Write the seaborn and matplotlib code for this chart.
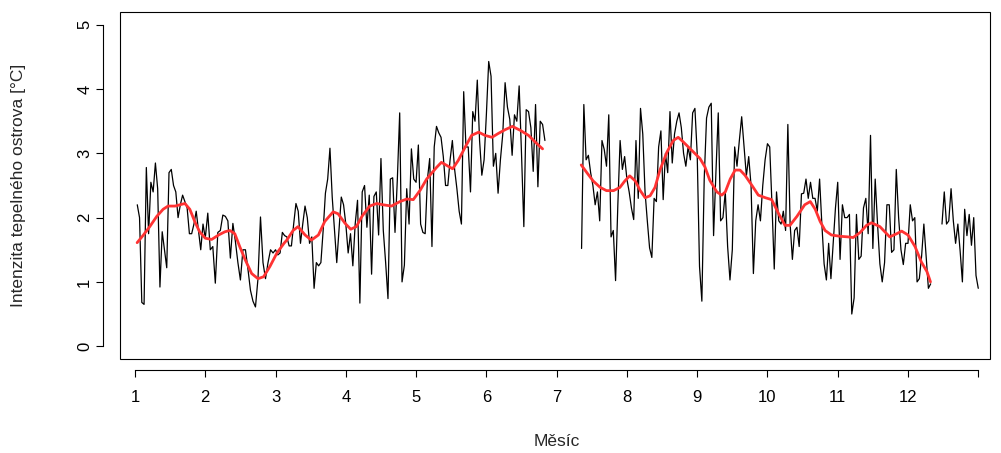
import numpy as np
import pandas as pd
import matplotlib
matplotlib.use("Agg")
import matplotlib.pyplot as plt
import seaborn as sns
from matplotlib.patches import Rectangle

nan = np.nan

# Daily urban heat island intensity [°C], one list per month
jan = [2.2, 2.0, 0.68, 0.65, 2.78, 1.75, 2.55, 2.4, 2.85, 2.45, 0.92, 1.78, 1.5, 1.22, 2.7, 2.75,
       2.5, 2.4, 2.0, 2.2, 2.35, 2.25, 2.15, 1.75, 1.75, 1.9, 2.1, 1.8, 1.5, 1.9, 1.68]
feb = [2.07, 1.5, 1.55, 0.98, 1.77, 1.8, 2.04, 2.02, 1.95, 1.37, 1.91, 1.63, 1.3, 1.03, 1.5, 1.5,
       1.2, 0.87, 0.7, 0.61, 1.05, 2.01, 1.3, 1.05, 1.3, 1.5, 1.45, 1.5]
mar = [1.42, 1.45, 1.77, 1.72, 1.7, 1.56, 1.56, 1.9, 2.22, 2.1, 1.6, 1.9, 2.18, 2.0, 1.6, 1.7,
       0.9, 1.3, 1.25, 1.3, 1.8, 2.38, 2.6, 3.08, 2.32, 1.8, 1.3, 1.8, 2.32, 2.2, 1.9]
apr = [1.45, 1.75, 1.25, 1.9, 2.27, 0.67, 2.4, 2.5, 1.85, 2.35, 1.12, 2.33, 2.4, 1.73, 2.92, 1.8,
       1.3, 0.74, 2.6, 2.62, 1.77, 2.6, 3.63, 1.0, 1.26, 2.45, 1.9, 3.07, 2.6, 2.55]
may = [3.13, 1.9, 1.77, 1.75, 2.6, 2.92, 1.55, 3.1, 3.42, 3.32, 3.25, 2.95, 2.5, 2.5, 2.9, 3.2,
       2.75, 2.45, 2.1, 1.9, 3.96, 3.1, 3.1, 2.4, 3.65, 3.5, 4.14, 3.2, 2.66, 2.9, 3.6]
jun = [4.43, 4.2, 2.8, 3.0, 2.38, 2.9, 3.3, 4.1, 3.72, 3.53, 2.97, 3.6, 3.5, 4.05, 3.0, 1.86,
       3.68, 3.65, 3.4, 2.72, 3.76, 2.48, 3.5, 3.45, 3.2, nan, nan, nan, nan, nan]
jul = [nan, nan, nan, nan, nan, nan, nan, nan, nan, nan, 1.52, 3.76, 2.9, 2.97, 2.7, 2.5,
       2.2, 2.4, 1.95, 3.2, 3.06, 2.8, 3.6, 1.7, 1.8, 1.02, 2.2, 3.2, 2.75, 2.95, 2.6]
aug = [2.4, 2.15, 1.97, 3.2, 2.3, 3.7, 3.3, 2.4, 1.95, 1.53, 1.38, 2.3, 2.25, 3.1, 3.35, 2.28,
       3.0, 2.7, 3.65, 2.85, 3.3, 3.5, 3.63, 3.4, 3.0, 2.8, 3.1, 2.9, 3.63, 3.7, 3.0]
sep = [1.24, 0.7, 2.6, 3.55, 3.72, 3.78, 1.72, 2.7, 3.63, 1.95, 2.0, 2.4, 1.55, 1.03, 1.5, 3.1,
       2.8, 3.2, 3.57, 3.1, 2.65, 2.95, 2.5, 1.13, 1.95, 2.2, 1.95, 2.5, 2.9, 3.15]
oct_ = [3.1, 2.2, 1.2, 2.4, 1.95, 1.9, 2.1, 1.8, 3.45, 1.9, 1.35, 1.8, 1.85, 1.55, 2.37, 2.38,
        2.6, 2.3, 2.55, 2.3, 2.3, 2.1, 2.6, 1.9, 1.28, 1.03, 1.6, 1.05, 1.6, 2.15, 2.55]
nov = [1.35, 2.2, 2.0, 2.0, 2.05, 0.5, 0.75, 2.05, 1.35, 1.4, 2.15, 2.3, 1.75, 3.28, 1.52, 2.6,
       1.9, 1.28, 1.0, 1.3, 2.2, 2.2, 1.46, 1.5, 2.75, 2.0, 1.5, 1.27, 1.6, 1.6]
dec = [2.2, 1.95, 2.0, 1.0, 1.05, 1.4, 1.9, 1.4, 0.9, 0.97, nan, nan, nan, nan, 1.9, 2.4,
       1.9, 1.95, 2.45, 1.95, 1.6, 1.9, 1.48, 1.0, 2.13, 1.72, 2.05, 1.57, 2.0, 1.1, 0.9]

months = [jan, feb, mar, apr, may, jun, jul, aug, sep, oct_, nov, dec]

# Smoothed trend (month, °C), two continuous stretches
trend1_x = [1.03, 1.12, 1.21, 1.31, 1.40, 1.47, 1.57, 1.64, 1.71, 1.78, 1.85, 1.92, 2.00, 2.09,
            2.19, 2.28, 2.35, 2.42, 2.49, 2.57, 2.66, 2.75, 2.83, 2.92, 3.02, 3.12, 3.16, 3.25,
            3.32, 3.42, 3.51, 3.61, 3.70, 3.82, 3.89, 3.99, 4.07, 4.15, 4.23, 4.34, 4.44, 4.53,
            4.65, 4.77, 4.87, 4.96, 5.06, 5.15, 5.29, 5.36, 5.44, 5.52, 5.60, 5.70, 5.79, 5.89,
            5.98, 6.08, 6.17, 6.27, 6.37, 6.48, 6.60, 6.72, 6.80]
trend1_y = [1.61, 1.73, 1.86, 2.02, 2.13, 2.18, 2.18, 2.20, 2.22, 2.13, 1.94, 1.78, 1.68, 1.66,
            1.73, 1.78, 1.80, 1.75, 1.55, 1.34, 1.13, 1.05, 1.08, 1.24, 1.45, 1.60, 1.65, 1.80,
            1.86, 1.73, 1.65, 1.73, 1.94, 2.09, 2.06, 1.91, 1.82, 1.86, 2.02, 2.18, 2.22, 2.20,
            2.18, 2.25, 2.29, 2.28, 2.43, 2.60, 2.78, 2.86, 2.81, 2.76, 2.89, 3.10, 3.28, 3.33,
            3.28, 3.25, 3.31, 3.37, 3.42, 3.36, 3.28, 3.15, 3.07]
trend2_x = [7.35, 7.43, 7.52, 7.62, 7.71, 7.81, 7.90, 7.97, 8.04, 8.12, 8.19, 8.26, 8.33, 8.40,
            8.47, 8.57, 8.66, 8.73, 8.80, 8.92, 9.04, 9.11, 9.18, 9.28, 9.35, 9.40, 9.47, 9.54,
            9.61, 9.68, 9.78, 9.87, 9.97, 10.06, 10.16, 10.25, 10.32, 10.42, 10.53, 10.61, 10.68,
            10.75, 10.82, 10.91, 11.03, 11.15, 11.22, 11.32, 11.41, 11.48, 11.60, 11.74, 11.84,
            11.91, 12.00, 12.10, 12.19, 12.27, 12.32]
trend2_y = [2.82, 2.70, 2.57, 2.47, 2.42, 2.42, 2.47, 2.57, 2.65, 2.57, 2.42, 2.31, 2.34, 2.47,
            2.74, 3.02, 3.20, 3.25, 3.18, 3.05, 2.92, 2.79, 2.58, 2.40, 2.35, 2.40, 2.60, 2.74,
            2.74, 2.66, 2.50, 2.35, 2.31, 2.28, 2.06, 1.88, 1.88, 2.02, 2.20, 2.25, 2.13,
            1.94, 1.80, 1.73, 1.71, 1.70, 1.69, 1.77, 1.88, 1.92, 1.86, 1.70, 1.75,
            1.79, 1.73, 1.55, 1.31, 1.16, 1.00]

x_ticks = list(range(1, 14))
x_tick_labels = [str(m) for m in range(1, 13)] + [""]
y_ticks = [0, 1, 2, 3, 4, 5]

# Daily table: fractional month position, value, id of continuous stretch
rows = []
for m, vals in enumerate(months, start=1):
    n = len(vals)
    for d, v in enumerate(vals, start=1):
        rows.append((m + d / n, v))
daily = pd.DataFrame(rows, columns=["mesic", "intenzita"])
daily["usek"] = daily["intenzita"].isna().cumsum()
daily = daily.dropna()

trend = pd.concat([
    pd.DataFrame({"mesic": trend1_x, "intenzita": trend1_y, "usek": 0}),
    pd.DataFrame({"mesic": trend2_x, "intenzita": trend2_y, "usek": 1}),
])

sns.set_style("ticks")
plt.rcParams["font.family"] = ["Liberation Sans", "DejaVu Sans"]

fig = plt.figure(figsize=(10.01, 4.53), dpi=100)
ax = fig.add_axes([120 / 1001, 1 - 359 / 453, 870 / 1001, 347 / 453])

sns.lineplot(data=daily, x="mesic", y="intenzita", units="usek", estimator=None,
             sort=False, color="black", linewidth=0.9, ax=ax)
sns.lineplot(data=trend, x="mesic", y="intenzita", units="usek", estimator=None,
             sort=False, color="#ff3333", linewidth=2.0, ax=ax)

ax.set_xlim(0.7865, 13.167)
ax.set_ylim(-0.2, 5.2)

# Axes drawn apart from the plot frame
for side in ["top", "right"]:
    ax.spines[side].set_visible(False)
ax.spines["left"].set_position(("outward", 12))
ax.spines["bottom"].set_position(("outward", 8))
ax.spines["left"].set_bounds(0, 5)
ax.spines["bottom"].set_bounds(1, 13)
for side in ["left", "bottom"]:
    ax.spines[side].set_linewidth(0.8)
    ax.spines[side].set_color("black")
ax.add_patch(Rectangle((0, 0), 1, 1, transform=ax.transAxes, fill=False,
                       edgecolor="black", linewidth=0.8, clip_on=False))

ax.set_xticks(x_ticks)
ax.set_xticklabels(x_tick_labels)
ax.set_yticks(y_ticks)
ax.set_yticklabels([str(v) for v in y_ticks], rotation=90, va="center")
ax.tick_params(axis="both", direction="out", length=5, width=0.8, color="black",
               labelsize=12, labelcolor="black")
ax.tick_params(axis="x", pad=9)
ax.tick_params(axis="y", pad=3)

ax.set_xlabel("Měsíc", fontsize=12.5, va="center")
ax.set_ylabel("Intenzita tepelného ostrova [°C]", fontsize=12.5, va="center")
ax.xaxis.set_label_coords(0.5017, -0.239)
ax.yaxis.set_label_coords(-0.117, 0.5)

fig.savefig("out.png", dpi=100, facecolor="white")
